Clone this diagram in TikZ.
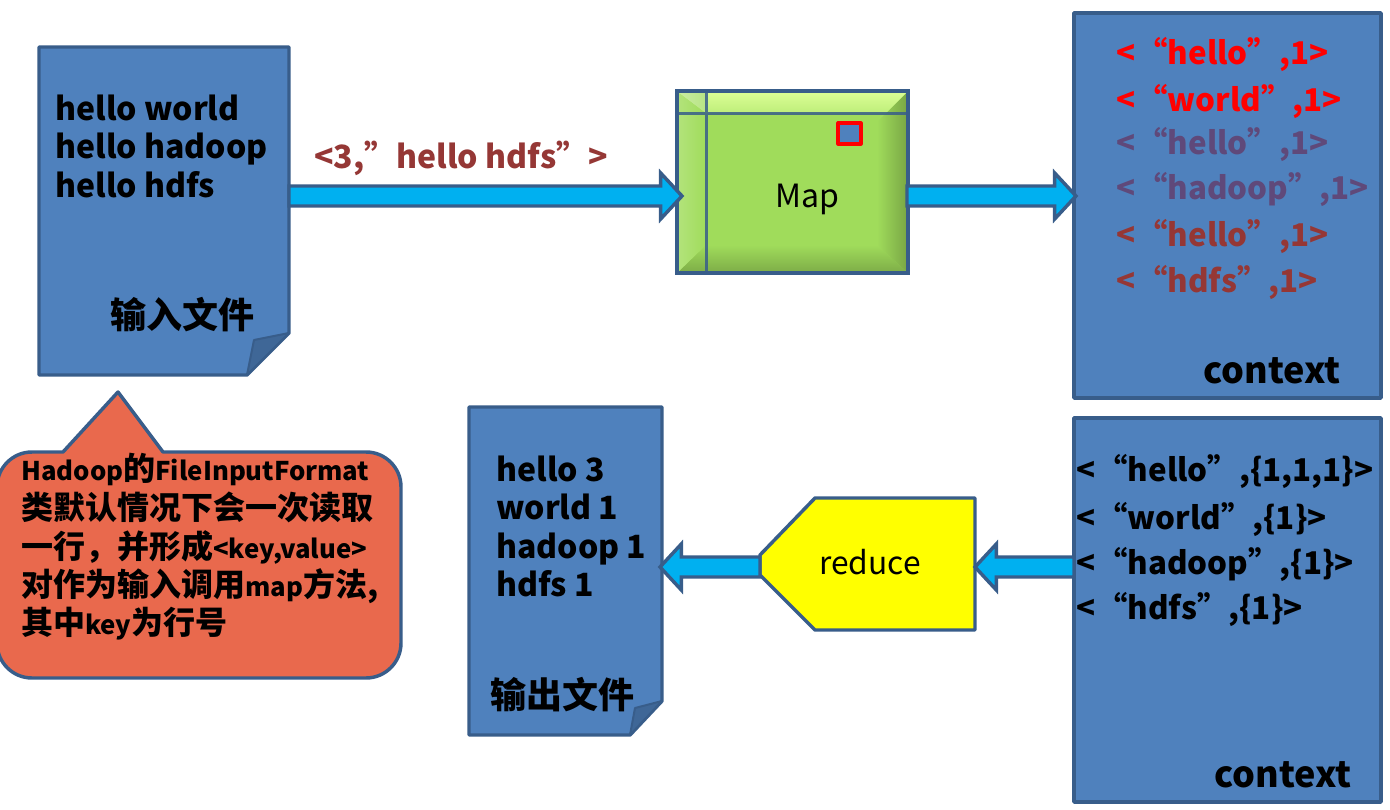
\documentclass[tikz,border=0pt]{standalone}
\usepackage{fontspec}
\setmainfont{Noto Sans CJK SC}
\usetikzlibrary{calc}
\definecolor{docfill}{HTML}{4F81BD}
\definecolor{edge}{HTML}{385D8A}
\definecolor{foldc}{HTML}{3F6797}
\definecolor{sky}{HTML}{00B0F0}
\definecolor{coral}{HTML}{E9694D}
\definecolor{mapg}{HTML}{A0DC5B}
\definecolor{maptop}{HTML}{DCFF96}
\definecolor{maptopb}{HTML}{BEEE7A}
\definecolor{brownr}{HTML}{953735}
\definecolor{plum}{HTML}{5F497A}
\definecolor{pureyellow}{HTML}{FFFF00}
\newcommand\zh[1]{{\fontsize{24pt}{26pt}\selectfont #1}}
\newcommand\lt{<\kern0.8pt}
\tikzset{
  shapeedge/.style={draw=edge,line width=2.6pt,line join=round},
  docbox/.style={shapeedge,fill=docfill},
  blockarrow/.style={draw=edge,line width=2.6pt,fill=sky,line join=miter},
  big/.style={font=\fontsize{24pt}{26pt}\selectfont\bfseries,anchor=base west,inner sep=0pt},
  title/.style={font=\fontsize{27pt}{29pt}\selectfont\bfseries,anchor=base west,inner sep=0pt},
  item/.style={font=\fontsize{23.5pt}{26pt}\selectfont\bfseries,anchor=base west,inner sep=0pt},
  note/.style={font=\fontsize{19.3pt}{21pt}\selectfont\bfseries,anchor=base west,inner sep=0pt},
  plain/.style={font=\fontsize{24pt}{26pt}\selectfont,anchor=base,inner sep=0pt},
}
\newcommand\blockarrow[3]{%
  \draw[blockarrow] let \p1=(#1),\p2=(#2) in
    (\x1,\y1+7.5pt) -- ({\x2-(#3)*16pt},\y1+7.5pt) -- ({\x2-(#3)*16pt},\y1+17.25pt)
    -- (\x2,\y1) -- ({\x2-(#3)*16pt},\y1-17.25pt) -- ({\x2-(#3)*16pt},\y1-7.5pt) -- (\x1,\y1-7.5pt) -- cycle;}
\begin{document}
\begin{tikzpicture}[x=0.75pt,y=-0.75pt]
\useasboundingbox (0,0) rectangle (1390,810);
\fill[white] (0,0) rectangle (1390,810);

% input document
\draw[docbox] (39,47) -- (289,47) -- (289,333) -- (247,375) -- (39,375) -- cycle;
\fill[foldc,draw=edge,line width=1.5pt,line join=round] (247,375) -- (254,340) -- (289,333) -- cycle;
\node[big] (l1) at (55,120) {hello world};
\node[big] (l2) at (55,158) {hello hadoop};
\node[big] (l3) at (55,197) {hello hdfs};
\node[title] (intitle) at (110,328) {输入文件};

% callout
\draw[shapeedge,fill=coral] (35,452) -- (63,452) -- (118,392) -- (163,452) -- (366,452)
  arc[start angle=-90,end angle=0,radius=35] -- (401,643)
  arc[start angle=0,end angle=90,radius=35] -- (32,678)
  arc[start angle=90,end angle=180,radius=35] -- (-3,487)
  arc[start angle=180,end angle=270,radius=35] -- cycle;
\node[note] (n1) at (21,480) {Hadoop\zh{的}FileInputFormat};
\node[note] (n2) at (21,519) {\zh{类默认情况下会一次读取}};
\node[note] (n3) at (21,558) {\zh{一行，并形成}<key,value>};
\node[note] (n4) at (21,596) {\zh{对作为输入调用}map\zh{方法,}};
\node[note] (n5) at (21,634) {\zh{其中}key\zh{为行号}};

% Map bevel box
\fill[mapg] (677,91) rectangle (908,273);
\shade[top color=mapg,bottom color=mapg!78!black] (677,273) -- (706,245) -- (877,245) -- (908,273) -- cycle;
\shade[left color=mapg,right color=mapg!75!black] (908,91) -- (877,122) -- (877,245) -- (908,273) -- cycle;
\shade[left color=mapg!80!white,right color=mapg] (677,91) -- (706,113) -- (706,245) -- (677,273) -- cycle;
\shade[top color=maptop,bottom color=maptopb] (677,91) -- (908,91) -- (886,113) -- (706,113) -- cycle;
\shade[left color=mapg!55!white,right color=mapg!75!white] (677,91) -- (706,91) -- (706,113) -- cycle;
\draw[edge,line width=2.2pt,opacity=.85] (677,113.5) -- (908,113.5) (706.5,91) -- (706.5,273);
\draw[edge,line width=2.6pt] (677,91) rectangle (908,273);
\draw[red,line width=2.4pt,fill=docfill,line join=round] (838,123) rectangle (861,144);
\node[plain] (map) at (807,207) {Map};

% contexts
\draw[docbox] (1074,13) rectangle (1381,398);
\node[item,text=red] (c11) at (1116,64) {\lt“hello”,1>};
\node[item,text=red] (c12) at (1116,111) {\lt“world”,1>};
\node[item,text=plum] (c13) at (1116,154) {\lt“hello”,1>};
\node[item,text=plum] (c14) at (1116,199) {\lt“hadoop”,1>};
\node[item,text=brownr] (c15) at (1116,246) {\lt“hello”,1>};
\node[item,text=brownr] (c16) at (1116,292) {\lt“hdfs”,1>};
\node[title] (ctx1) at (1203,383) {context};

\draw[docbox] (1074,418) rectangle (1381,802);
\node[item] (c21) at (1076,481) {\lt“hello”,\{1,1,1\}>};
\node[item] (c22) at (1076,529) {\lt“world”,\{1\}>};
\node[item] (c23) at (1076,574) {\lt“hadoop”,\{1\}>};
\node[item] (c24) at (1076,619) {\lt“hdfs”,\{1\}>};
\node[title] (ctx2) at (1214,787) {context};

% reduce
\draw[shapeedge,fill=pureyellow] (815,498) -- (975,498) -- (975,630) -- (815,630) -- (760,575) -- (760,555) -- cycle;
\node[plain,font=\fontsize{23.8pt}{26pt}\selectfont] (reduce) at (870,574) {reduce};

% output document
\draw[docbox] (469,407) -- (662,407) -- (662,701) -- (630,735) -- (469,735) -- cycle;
\fill[foldc,draw=edge,line width=1.5pt,line join=round] (630,735) -- (635,708) -- (662,701) -- cycle;
\node[big] (o1) at (496,481) {hello 3};
\node[big] (o2) at (496,519) {world 1};
\node[big] (o3) at (496,558) {hadoop 1};
\node[big] (o4) at (496,596) {hdfs 1};
\node[title] (outtitle) at (490,708) {输出文件};

% label
\node[item,font=\fontsize{24pt}{26pt}\selectfont\bfseries,text=brownr] (kv) at (314,168) {<3,”hello hdfs”>};

% block arrows
\coordinate (a1s) at (289,196); \coordinate (a1e) at (682,196);
\coordinate (a2s) at (907,196); \coordinate (a2e) at (1076,196);
\coordinate (a3s) at (1074,567); \coordinate (a3e) at (975,567);
\coordinate (a4s) at (760,567); \coordinate (a4e) at (660,567);
\blockarrow{a1s}{a1e}{1}
\blockarrow{a2s}{a2e}{1}
\blockarrow{a3s}{a3e}{-1}
\blockarrow{a4s}{a4e}{-1}
\end{tikzpicture}
\end{document}
